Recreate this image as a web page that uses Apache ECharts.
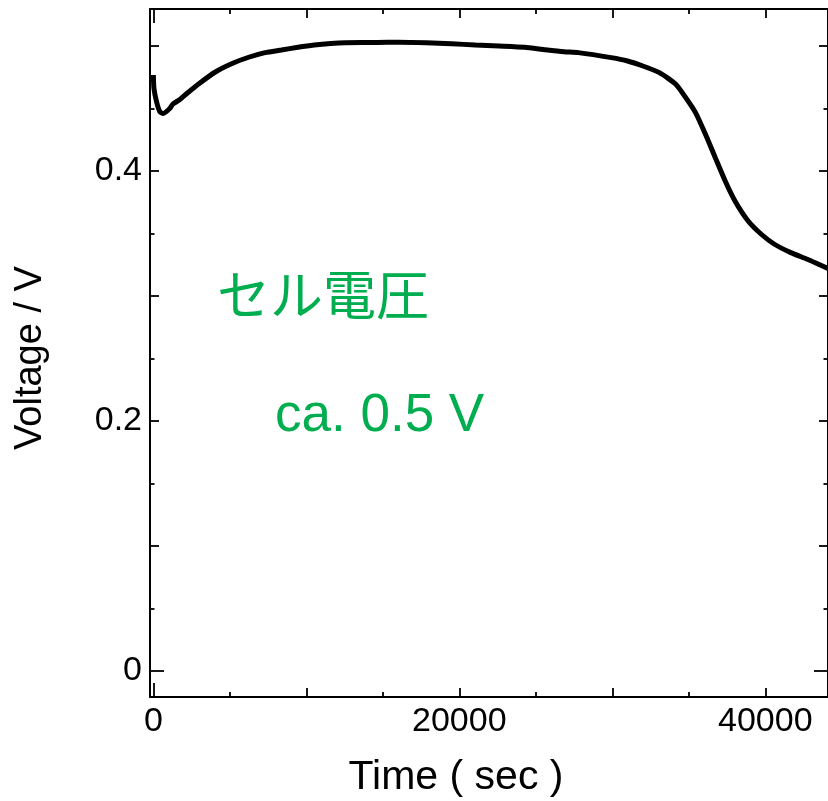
<!DOCTYPE html>
<html><head><meta charset="utf-8">
<script src="https://cdn.jsdelivr.net/npm/echarts@6/dist/echarts.min.js"></script>
<style>html,body{margin:0;padding:0;background:#fff}#c{width:828px;height:801px}</style>
</head><body><div id="c"></div>
<script>
// ---- data ----
const timeSec = [0, 40, 210, 425, 640, 1070, 1280, 1715, 2150, 3000, 4080, 5150, 6230, 7300, 8370, 9450, 10520, 11590, 12560, 14610, 16000, 17830, 19500, 21050, 22600, 24270, 25630, 26850, 27780, 29930, 31000, 32000, 33080, 34150, 34800, 35440, 36090, 36730, 37380, 38020, 38880, 39740, 40600, 41670, 42750, 43480, 44100];
const voltage = [0.4768, 0.466, 0.4554, 0.4474, 0.446, 0.45, 0.4536, 0.457, 0.4616, 0.47, 0.4794, 0.486, 0.491, 0.4947, 0.4968, 0.499, 0.5008, 0.502, 0.5026, 0.5028, 0.503, 0.5026, 0.5018, 0.5008, 0.5, 0.499, 0.497, 0.4954, 0.4947, 0.4907, 0.488, 0.484, 0.4787, 0.4694, 0.4587, 0.4467, 0.4294, 0.4107, 0.392, 0.376, 0.36, 0.3494, 0.3414, 0.3347, 0.3294, 0.3254, 0.322];
const xLabelValues = [0, 20000, 40000];
const xMajorTicks = [10000, 20000, 30000, 40000];
const xMinorTicks = [5000, 15000, 25000, 35000];
const yLabelValues = [0, 0.2, 0.4];
const yMajorTicks = [0.1, 0.2, 0.3, 0.4, 0.5];
const yMinorTicks = [0.05, 0.15, 0.25, 0.35, 0.45];
const zeroTick = [0];
const xTitle = 'Time ( sec )';
const yTitle = 'Voltage / V';
const note1 = 'セル電圧';
const note2 = 'ca. 0.5 V';

const X_MIN = -219, X_MAX = 44100, Y_MIN = -0.0208, Y_MAX = 0.5296;
const FONT = '"Liberation Sans", Arial, Helvetica, sans-serif';
const GREEN = '#00AD4F';

function axis(kind, pos, ticks, len, opts) {
  opts = opts || {};
  return {
    type: 'value', position: pos,
    min: kind === 'x' ? X_MIN : Y_MIN, max: kind === 'x' ? X_MAX : Y_MAX,
    splitLine: { show: false },
    axisLine: { show: !!opts.line, onZero: false, lineStyle: { color: '#000', width: 2 } },
    axisTick: { show: true, inside: true, length: len, customValues: ticks, lineStyle: { color: '#000', width: 1.8 } },
    axisLabel: opts.labels ? {
      show: true, customValues: opts.labels, margin: opts.margin, color: '#000',
      fontSize: 34, fontFamily: FONT,
      formatter: v => String(v)
    } : { show: false }
  };
}

const chart = echarts.init(document.getElementById('c'), null, { renderer: 'canvas' });
chart.setOption({
  animation: false,
  backgroundColor: '#fff',
  grid: { left: 150, top: 9, width: 687, height: 688, containLabel: false },
  xAxis: [
    axis('x', 'bottom', xMajorTicks, 9, { line: true, labels: xLabelValues, margin: 8 }),
    axis('x', 'bottom', xMinorTicks, 5),
    axis('x', 'bottom', zeroTick, 14),
    axis('x', 'top', xMajorTicks, 9, { line: true }),
    axis('x', 'top', xMinorTicks, 5),
    axis('x', 'top', zeroTick, 14)
  ],
  yAxis: [
    axis('y', 'left', yMajorTicks, 9, { line: true, labels: yLabelValues, margin: 8 }),
    axis('y', 'left', yMinorTicks, 4.5),
    axis('y', 'left', zeroTick, 14),
    axis('y', 'right', yMajorTicks, 9, { line: true }),
    axis('y', 'right', yMinorTicks, 4.5),
    axis('y', 'right', zeroTick, 14)
  ],
  series: [{
    type: 'line', xAxisIndex: 0, yAxisIndex: 0,
    data: timeSec.map((t, i) => [t, voltage[i]]),
    showSymbol: false, smooth: 0.2,
    lineStyle: { color: '#000', width: 5 },
    clip: true
  }],
  graphic: [
    { type: 'text', x: 456, y: 778, style: { text: xTitle, font: '41px ' + FONT, fill: '#000', align: 'center', verticalAlign: 'middle' } },
    { type: 'text', x: 31, y: 358, rotation: Math.PI / 2, style: { text: yTitle, font: '38px ' + FONT, fill: '#000', align: 'center', verticalAlign: 'middle' } },
    { type: 'text', x: 217, y: 295, style: { text: note1, font: '53px "Noto Sans CJK JP", sans-serif', fill: GREEN, align: 'left', verticalAlign: 'middle' } },
    { type: 'text', x: 275, y: 416, style: { text: note2, font: '53px ' + FONT, fill: GREEN, align: 'left', verticalAlign: 'middle' } }
  ]
});
</script>
</body></html>
